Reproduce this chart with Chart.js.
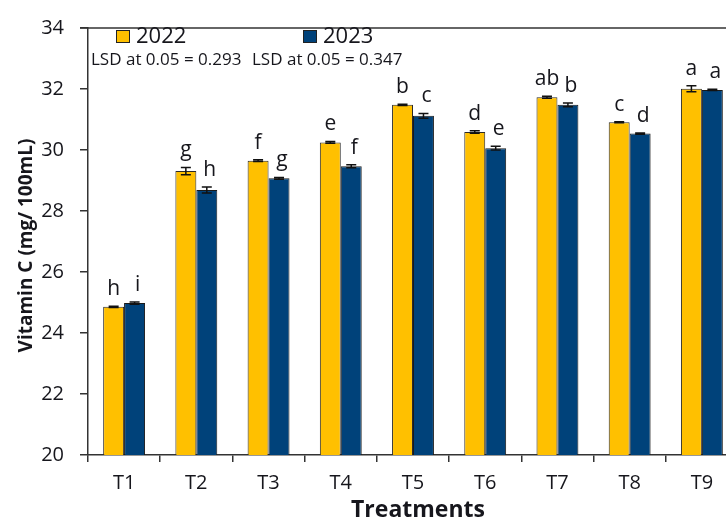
<!DOCTYPE html>
<html>
<head>
<meta charset="utf-8">
<script src="https://cdn.jsdelivr.net/npm/chart.js@4.4.1/dist/chart.umd.min.js"></script>
<style>
  html, body { margin: 0; padding: 0; background: #fff; overflow: hidden; }
  #wrap { position: absolute; left: 0; top: 0; width: 745px; height: 521px; }
</style>
</head>
<body>
<div id="wrap"><canvas id="vitChart"></canvas></div>
<script>
// --- data ---
const treatments = ['T1', 'T2', 'T3', 'T4', 'T5', 'T6', 'T7', 'T8', 'T9'];
const vit2022 = [24.86, 29.31, 29.65, 30.25, 31.48, 30.59, 31.73, 30.91, 32.01];
const vit2023 = [24.98, 28.69, 29.07, 29.47, 31.12, 30.06, 31.48, 30.54, 31.97];
const err2022 = [0.02, 0.12, 0.03, 0.03, 0.02, 0.04, 0.03, 0.02, 0.10];
const err2023 = [0.04, 0.10, 0.03, 0.05, 0.08, 0.06, 0.06, 0.02, 0.02];
const letters2022 = ['h', 'g', 'f', 'e', 'b', 'd', 'ab', 'c', 'a'];
const letters2023 = ['i', 'h', 'g', 'f', 'c', 'e', 'b', 'd', 'a'];
const lsdNotes = ['LSD at 0.05 = 0.293', 'LSD at 0.05 = 0.347'];
const yTicks = { min: 20, max: 34, step: 2 };

const FONT = "'Open Sans', 'Liberation Sans', sans-serif";
const INK = '#16161c';

// error bars + significance letters drawn from the bar elements
const barExtras = {
  id: 'barExtras',
  afterDatasetsDraw(chart) {
    const ctx = chart.ctx;
    const y = chart.scales.y;
    const errs = [err2022, err2023];
    const lets = [letters2022, letters2023];
    ctx.save();
    chart.data.datasets.forEach((ds, di) => {
      const meta = chart.getDatasetMeta(di);
      meta.data.forEach((bar, i) => {
        const v = ds.data[i];
        const hi = y.getPixelForValue(v + errs[di][i]);
        const lo = y.getPixelForValue(v - errs[di][i]);
        ctx.strokeStyle = '#111';
        ctx.lineWidth = 1.5;
        ctx.beginPath();
        ctx.moveTo(bar.x, hi); ctx.lineTo(bar.x, lo);
        ctx.moveTo(bar.x - 5, hi); ctx.lineTo(bar.x + 5, hi);
        ctx.moveTo(bar.x - 5, lo); ctx.lineTo(bar.x + 5, lo);
        ctx.stroke();
        ctx.fillStyle = INK;
        ctx.font = '21px ' + FONT;
        ctx.textAlign = 'center';
        ctx.textBaseline = 'alphabetic';
        ctx.fillText(lets[di][i], bar.x + (di ? 3 : 0), hi - 11);
      });
    });
    ctx.restore();
  }
};

// legend, LSD notes, frame top and axis titles
const decor = {
  id: 'decor',
  afterDraw(chart) {
    const ctx = chart.ctx;
    const a = chart.chartArea;
    ctx.save();
    // top frame line
    ctx.strokeStyle = '#333';
    ctx.lineWidth = 1.5;
    ctx.beginPath();
    ctx.moveTo(a.left - 8, a.top); ctx.lineTo(a.right, a.top);
    ctx.stroke();

    // legend
    const items = [[116, chart.data.datasets[0]], [303, chart.data.datasets[1]]];
    items.forEach(([x, ds]) => {
      ctx.fillStyle = ds.backgroundColor;
      ctx.fillRect(x, 30, 14, 13);
      ctx.strokeStyle = '#222';
      ctx.lineWidth = 1;
      ctx.strokeRect(x + 0.5, 30.5, 13, 12);
      ctx.fillStyle = INK;
      ctx.font = '22px ' + FONT;
      ctx.textAlign = 'left';
      ctx.textBaseline = 'middle';
      ctx.fillText(ds.label, x + 20, 37);
    });

    // LSD notes
    ctx.font = '17px ' + FONT;
    ctx.fillStyle = INK;
    ctx.textAlign = 'left';
    ctx.textBaseline = 'middle';
    ctx.fillText(lsdNotes[0], 91, 60);
    ctx.fillText(lsdNotes[1], 252, 60);

    // axis titles
    ctx.font = 'bold 19px ' + FONT;
    ctx.textAlign = 'center';
    ctx.textBaseline = 'middle';
    ctx.save();
    ctx.translate(27, (a.top + a.bottom) / 2 + 4);
    ctx.rotate(-Math.PI / 2);
    ctx.fillText('Vitamin C (mg/ 100mL)', 0, 0);
    ctx.restore();
    ctx.font = 'bold 23px ' + FONT;
    ctx.fillText('Treatments', (a.left + a.right) / 2 + 5, 510);
    ctx.restore();
  }
};

const ctxBar = document.getElementById('vitChart').getContext('2d');

new Chart(ctxBar, {
  type: 'bar',
  data: {
    labels: treatments,
    datasets: [
      {
        label: '2022',
        data: vit2022,
        backgroundColor: '#FFC000',
        borderColor: '#2a2a2a',
        borderWidth: 1,
        barPercentage: 1.0,
        categoryPercentage: 0.58
      },
      {
        label: '2023',
        data: vit2023,
        backgroundColor: '#00427A',
        borderColor: '#1a1a1a',
        borderWidth: 1,
        barPercentage: 1.0,
        categoryPercentage: 0.58
      }
    ]
  },
  options: {
    responsive: true,
    maintainAspectRatio: false,
    animation: false,
    layout: { padding: { top: 23, right: 7, left: 0, bottom: 0 } },
    plugins: {
      legend: { display: false },
      tooltip: { enabled: false }
    },
    scales: {
      y: {
        min: yTicks.min,
        max: yTicks.max,
        ticks: {
          stepSize: yTicks.step,
          padding: 16,
          color: INK,
          font: { size: 20, family: FONT }
        },
        grid: { drawOnChartArea: false, drawTicks: true, tickLength: 8, color: '#333', lineWidth: 1.5 },
        border: { color: '#333', width: 1.5 },
        afterFit: (scale) => { scale.width = 88; }
      },
      x: {
        ticks: {
          padding: 9,
          color: INK,
          font: { size: 20, family: FONT }
        },
        grid: { drawOnChartArea: false, drawTicks: true, tickLength: 7, color: '#333', lineWidth: 1.5 },
        border: { color: '#333', width: 1.5 },
        afterFit: (scale) => { scale.height = 66; }
      }
    }
  },
  plugins: [barExtras, decor]
});
</script>
</body>
</html>
